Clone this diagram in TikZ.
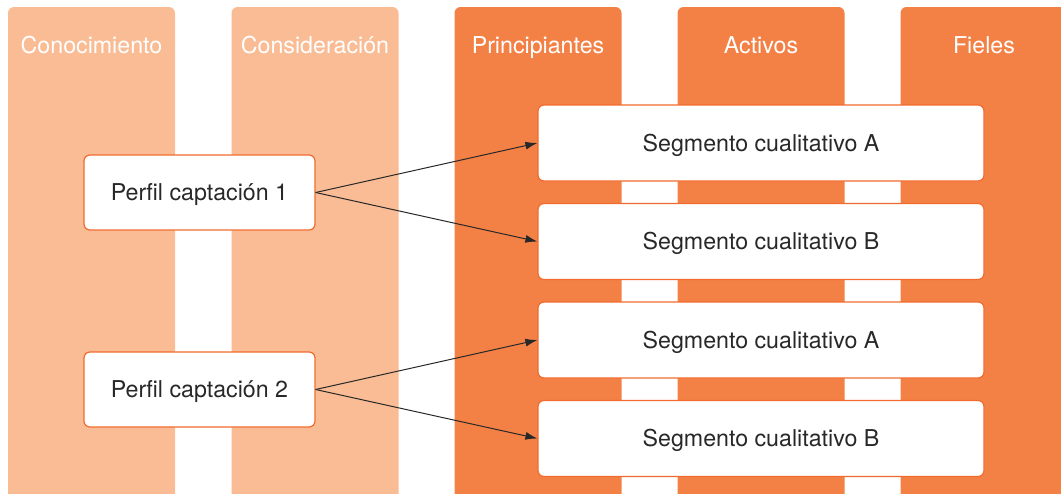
\documentclass[tikz,border=0pt]{standalone}
\usepackage{fontspec}
\setmainfont{TeX Gyre Heros}
\usetikzlibrary{positioning,arrows.meta}
\definecolor{fasefria}{RGB}{250,188,148}
\definecolor{fasecaliente}{RGB}{243,129,70}
\definecolor{bordenaranja}{RGB}{242,106,46}
\definecolor{textogris}{RGB}{40,40,40}
\begin{document}
\begin{tikzpicture}[x=0.5pt,y=-0.5pt,
  font=\fontsize{11.6}{13}\selectfont,
  fase/.style={rectangle,rounded corners=3pt,minimum width=83.5pt,minimum height=256.5pt,inner sep=0pt},
  titulo/.style={text=white,inner sep=0pt,anchor=base},
  perfil/.style={rectangle,rounded corners=3pt,draw=bordenaranja,line width=0.6pt,fill=white,text=textogris,text height=8.3pt,text depth=0pt,minimum width=115.5pt,minimum height=37.5pt},
  segmento/.style={rectangle,rounded corners=3pt,draw=bordenaranja,line width=0.6pt,fill=white,text=textogris,text height=8.3pt,text depth=0pt,minimum width=223pt,minimum height=38pt},
  flecha/.style={draw=textogris,line width=0.5pt,-{Latex[length=6pt,width=4pt]}}]
\useasboundingbox (0,0) rectangle (1061,493);

% columnas de fases
\node[fase,fill=fasefria] (conocimiento) at (91.5,263.5) {};
\node[fase,fill=fasefria] (consideracion) at (315,263.5) {};
\node[fase,fill=fasecaliente] (principiantes) at (538,263.5) {};
\node[fase,fill=fasecaliente] (activos) at (761,263.5) {};
\node[fase,fill=fasecaliente] (fieles) at (984,263.5) {};

\node[titulo] (t1) at (91.5,53) {Conocimiento};
\node[titulo] (t2) at (315,53) {Consideración};
\node[titulo] (t3) at (538,53) {Principiantes};
\node[titulo] (t4) at (761,53) {Activos};
\node[titulo] (t5) at (984,53) {Fieles};

% perfiles y segmentos
\node[perfil] (p1) at (199.5,192.5) {Perfil captación 1};
\node[perfil] (p2) at (199.5,389.5) {Perfil captación 2};

\node[segmento] (s1a) at (761,143) {Segmento cualitativo A};
\node[segmento] (s1b) at (761,241.5) {Segmento cualitativo B};
\node[segmento] (s2a) at (761,340) {Segmento cualitativo A};
\node[segmento] (s2b) at (761,438.5) {Segmento cualitativo B};

\draw[flecha] (p1.east)--(s1a.west);
\draw[flecha] (p1.east)--(s1b.west);
\draw[flecha] (p2.east)--(s2a.west);
\draw[flecha] (p2.east)--(s2b.west);
\end{tikzpicture}
\end{document}
